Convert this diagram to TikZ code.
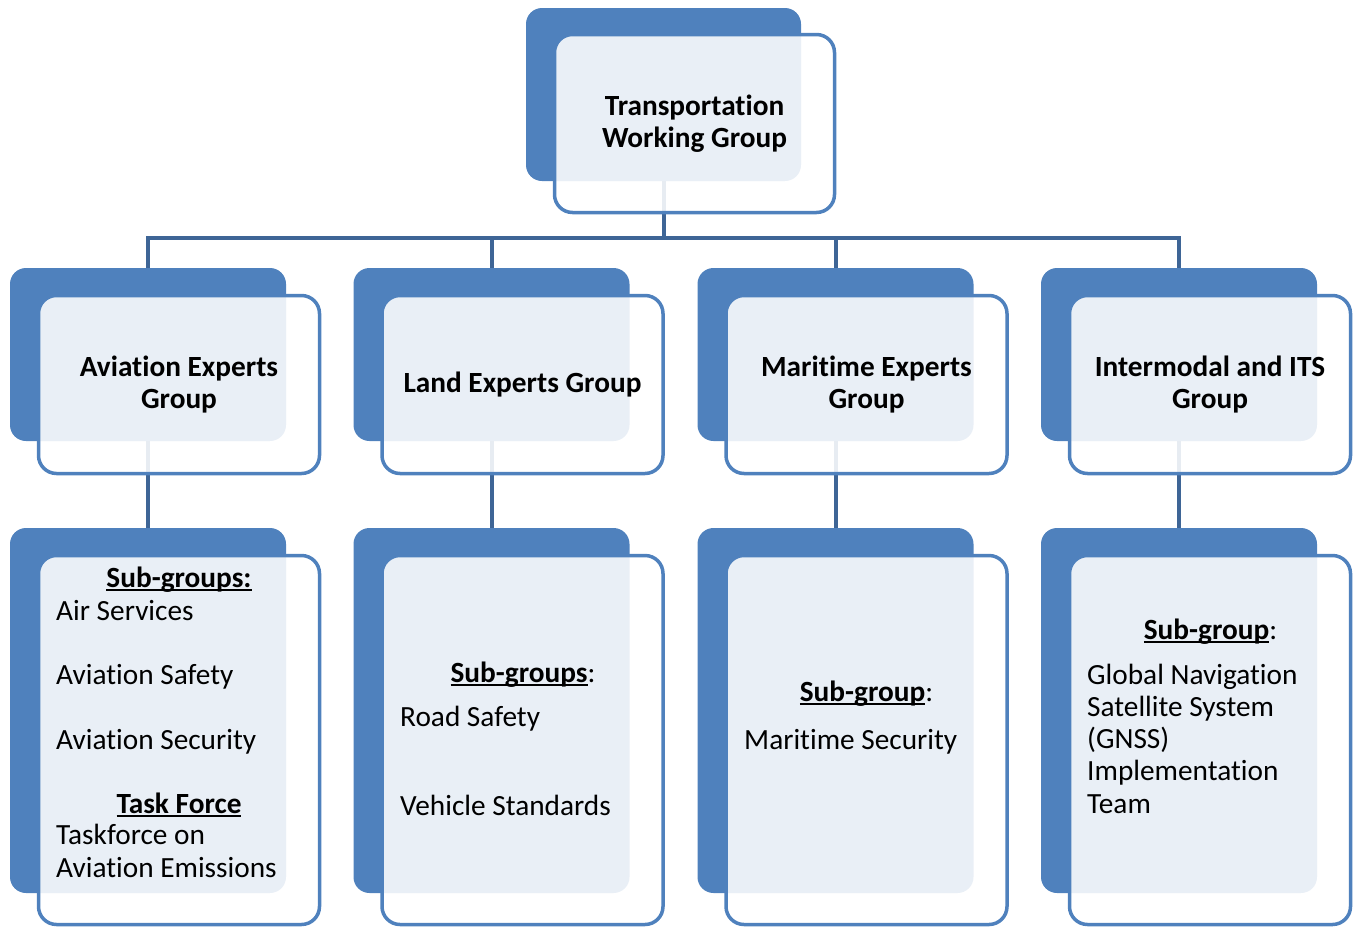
\documentclass[tikz,border=0pt]{standalone}
\usepackage{fontspec}
\setmainfont{Carlito}[Ligatures=NoCommon]
\usepackage{tikz}
\usetikzlibrary{positioning, backgrounds}

\definecolor{accent}{RGB}{79,129,189}
\definecolor{linkblue}{RGB}{62,101,150}
\newcommand{\boxfont}{\fontsize{29.3}{32.2}\selectfont}
% underline close to the baseline, as in the slide
\newcommand{\uln}[1]{\setbox0\hbox{#1}\rlap{\rule[-4pt]{\wd0}{2pt}}\box0}

\begin{document}
\begin{tikzpicture}[
        x=1pt, y=-1pt,
        backbox/.style={rectangle, rounded corners=16pt, fill=accent, inner sep=0pt},
        frontbox/.style={rectangle, rounded corners=18pt, draw=accent, line width=3.5pt,
            fill=white, fill opacity=0.88, text opacity=1, inner sep=0pt,
            font=\boxfont\bfseries, align=center},
        head/.style={font=\boxfont\bfseries, anchor=base, inner sep=0pt},
        item/.style={font=\boxfont, anchor=base west, align=left, inner sep=0pt},
        link/.style={draw=linkblue, line width=4pt}
    ]
    \useasboundingbox (0,0) rectangle (1357,927);

    % --- Top: working group ---
    \node[backbox, minimum width=275, minimum height=173] (twg-back) at (663.5,94.5) {};
    \node[frontbox, minimum width=280, minimum height=178] (twg) at ([shift={(31,29)}]twg-back.center)
        {Transportation\\Working Group};

    % --- Middle: expert groups ---
    \begin{scope}[every node/.append style={minimum width=276, minimum height=173}]
        \node[backbox] (aviation-back)   at (148,354.5)   {};
        \node[backbox] (land-back)       at (491.5,354.5) {};
        \node[backbox] (maritime-back)   at (835.5,354.5) {};
        \node[backbox] (intermodal-back) at (1179,354.5)  {};
    \end{scope}
    \begin{scope}[every node/.append style={minimum width=281, minimum height=178}]
        \node[frontbox] (aviation)   at ([shift={(31,30)}]aviation-back.center)   {Aviation Experts\\Group};
        \node[frontbox] (land)       at ([shift={(31,30)}]land-back.center)       {Land Experts Group};
        \node[frontbox] (maritime)   at ([shift={(31,30)}]maritime-back.center)   {Maritime Experts\\Group};
        \node[frontbox] (intermodal) at ([shift={(31,30)}]intermodal-back.center) {Intermodal and ITS\\Group};
    \end{scope}

    % --- Bottom: sub-groups ---
    \begin{scope}[every node/.append style={minimum width=276, minimum height=365}]
        \node[backbox] (aviation-sub-back)   at (148,710.5)   {};
        \node[backbox] (land-sub-back)       at (491.5,710.5) {};
        \node[backbox] (maritime-sub-back)   at (835.5,710.5) {};
        \node[backbox] (intermodal-sub-back) at (1179,710.5)  {};
    \end{scope}
    \begin{scope}[every node/.append style={minimum width=281, minimum height=369}]
        \node[frontbox] (aviation-sub)   at ([shift={(31,29.5)}]aviation-sub-back.center)   {};
        \node[frontbox] (land-sub)       at ([shift={(31,29.5)}]land-sub-back.center)       {};
        \node[frontbox] (maritime-sub)   at ([shift={(31,29.5)}]maritime-sub-back.center)   {};
        \node[frontbox] (intermodal-sub) at ([shift={(31,29.5)}]intermodal-sub-back.center) {};
    \end{scope}

    % texts of the sub-group boxes (base = last line)
    \node[head] (aviation-head) at (179,587) {\uln{Sub-groups:}};
    \node[item] (aviation-list) at (56,749) {Air Services\\[32.2pt]Aviation Safety\\[32.2pt]Aviation Security};
    \node[head] (task-head) at (179,813) {\uln{Task Force}};
    \node[item] (task-list) at (56,877) {Taskforce on\\Aviation Emissions};

    \node[head] (land-head) at (523,682) {\uln{Sub-groups}\mdseries:};
    \node[item] (land-list) at (400,815) {Road Safety\\[56.8pt]Vehicle Standards};

    \node[head] (maritime-head) at (866.5,701) {\uln{Sub-group}\mdseries:};
    \node[item] (maritime-list) at (744,749) {Maritime Security};

    \node[head] (intermodal-head) at (1210.5,639) {\uln{Sub-group}\mdseries:};
    \node[item] (intermodal-list) at (1087,813)
        {Global Navigation\\Satellite System\\(GNSS)\\Implementation\\Team};

    % --- Connectors (behind the boxes) ---
    \begin{pgfonlayer}{background}
        \foreach \g in {aviation, land, maritime, intermodal} {
            \draw[link] (twg-back.south) -- ++(0,57) -| (\g-back.north);
            \draw[link] (\g-back.south) -- (\g-sub-back.north);
        }
    \end{pgfonlayer}

\end{tikzpicture}
\end{document}
